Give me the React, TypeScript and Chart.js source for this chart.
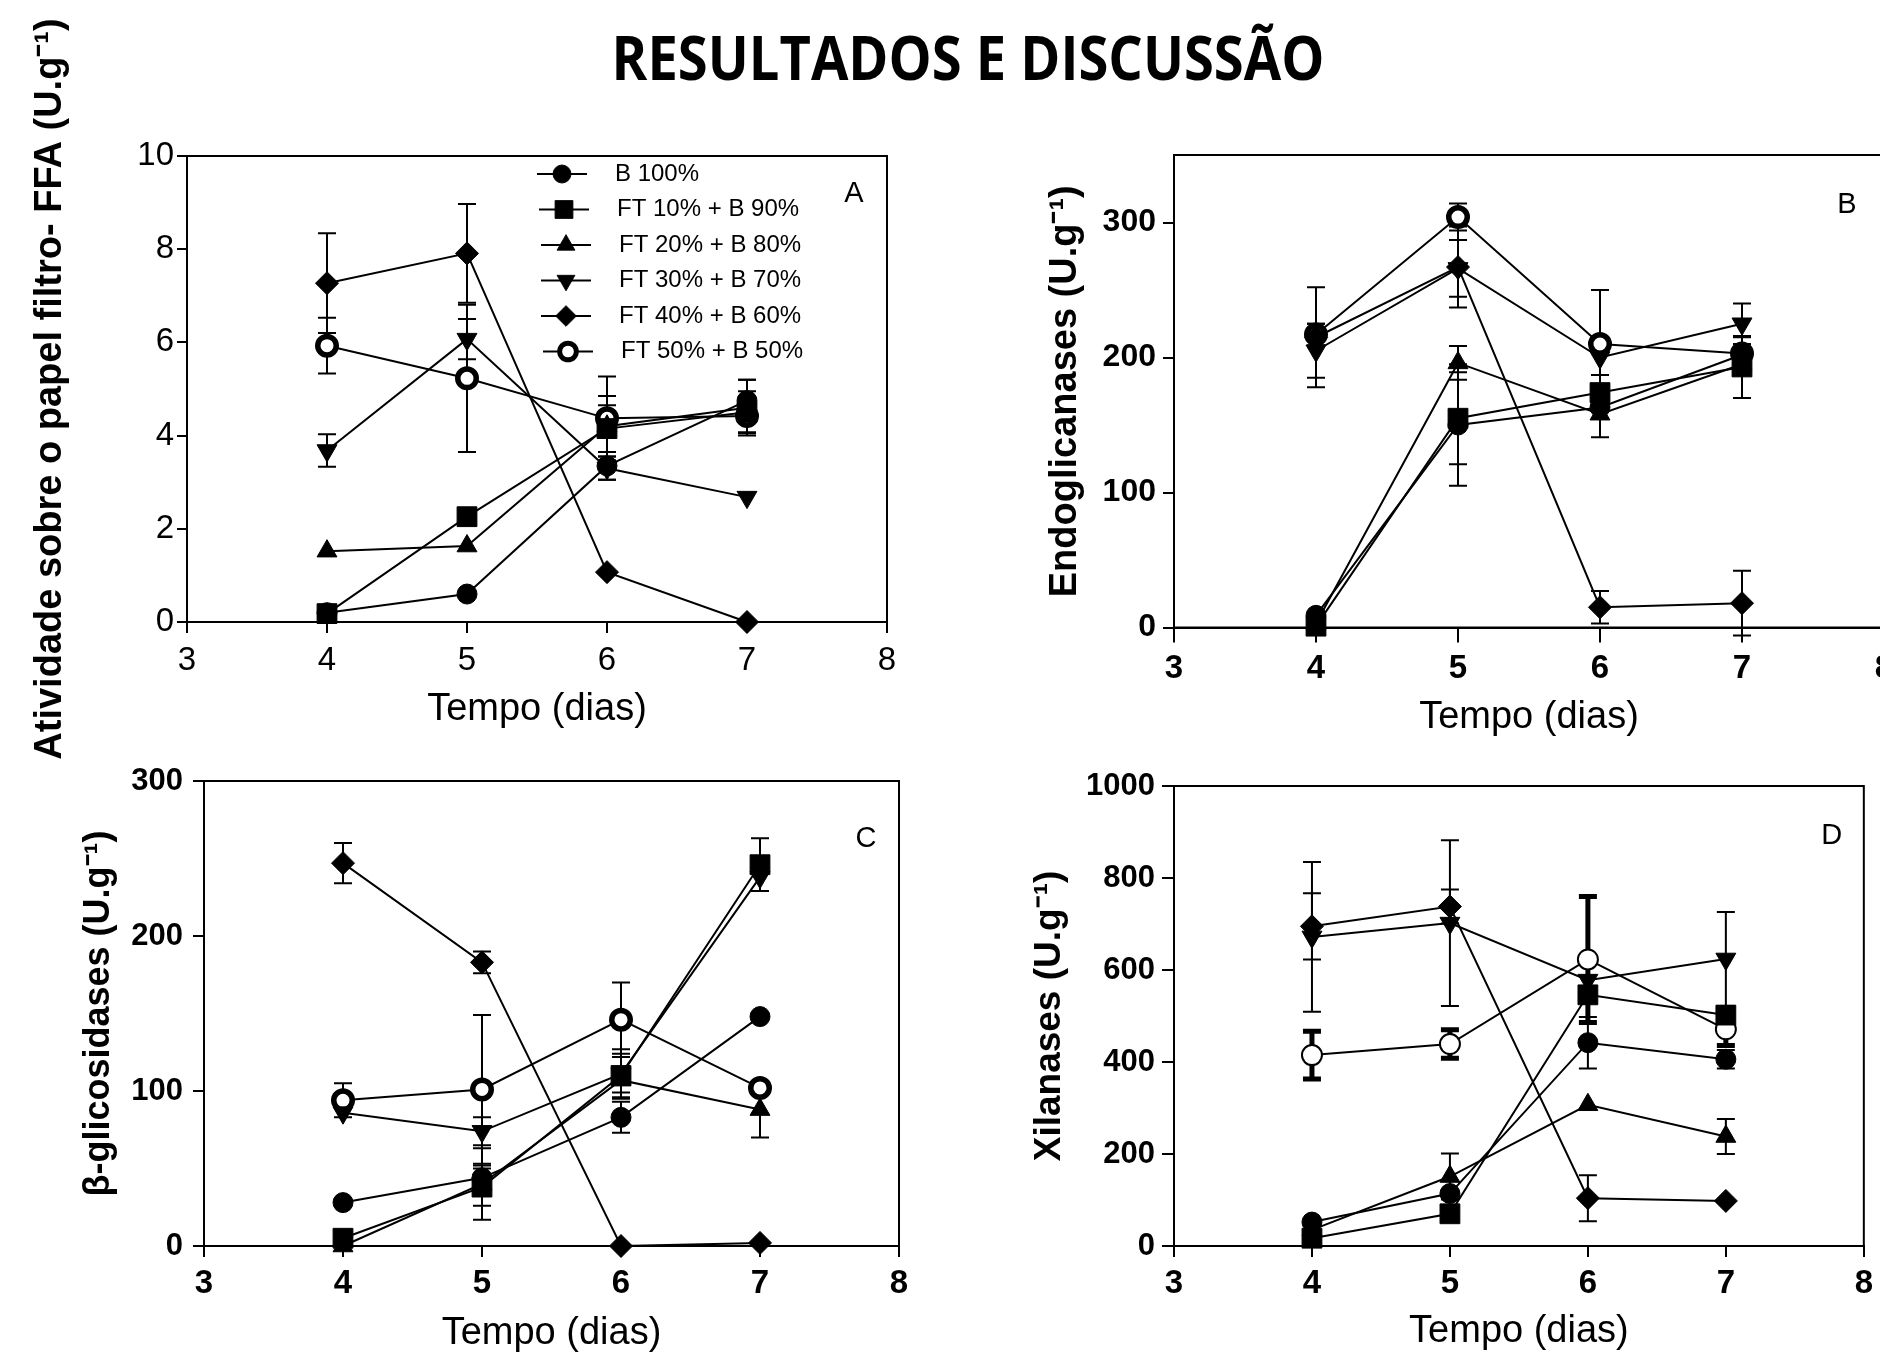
import React, { useEffect, useRef } from 'react';
import { Chart, registerables } from 'chart.js';

Chart.register(...registerables);

const FONT = "'Liberation Sans', Arial, Helvetica, sans-serif";

// ---------- data ----------
const days = [4, 5, 6, 7];
const xTickValues = [3, 4, 5, 6, 7, 8];
const seriesLabels = [
  'B 100%',
  'FT 10% + B 90%',
  'FT 20% + B 80%',
  'FT 30% + B 70%',
  'FT 40% + B 60%',
  'FT 50% + B 50%',
];

// A – Atividade sobre o papel filtro (FFA)
const ffaTicks = [0, 2, 4, 6, 8, 10];
const ffaMeans = [
  [0.2, 0.6, 3.35, 4.75],
  [0.18, 2.26, 4.15, 4.5],
  [1.52, 1.63, 4.2, 4.6],
  [3.68, 6.07, 3.3, 2.68],
  [7.27, 7.91, 1.07, 0.0],
  [5.93, 5.23, 4.37, 4.42],
];
const ffaErrors = [
  [0, 0, 0.3, 0.45],
  [0, 0, 0.5, 0.45],
  [0, 0, 0.65, 0.6],
  [0.35, 0.43, 0.25, 0],
  [1.07, 1.06, 0, 0],
  [0.6, 1.58, 0.9, 0.35],
];

// B – Endoglicanases
const endoTicks = [0, 100, 200, 300];
const endoMeans = [
  [9, 150, 163, 202],
  [1, 155, 174, 193],
  [3, 196, 158, 195],
  [205, 266, 200, 225],
  [215, 267, 15, 18],
  [217, 304, 210, 203],
];
const endoErrors = [
  [0, 45, 0, 0],
  [0, 34, 13, 23],
  [0, 12.5, 17, 0],
  [20, 21, 0, 15],
  [37, 30, 12, 24],
  [8, 10, 40, 12],
];

// C – beta-glicosidases
const betaTicks = [0, 100, 200, 300];
const betaMeans = [
  [28, 44, 83, 148],
  [5, 38, 110, 246],
  [0, 40, 107, 88],
  [86, 74, 111, 238],
  [247, 183, 0, 2],
  [94, 101, 146, 102],
];
const betaErrors = [
  [0, 8, 10, 0],
  [0, 12, 14, 17],
  [0, 23, 8, 18],
  [0, 9, 16, 0],
  [13, 7, 0, 0],
  [11, 48, 24, 0],
];

// D – Xilanases
const xilTicks = [0, 200, 400, 600, 800, 1000];
const xilMeans = [
  [52, 114, 442, 406],
  [17, 70, 546, 502],
  [35, 151, 307, 238],
  [672, 702, 578, 624],
  [695, 738, 104, 98],
  [415, 439, 623, 471],
];
const xilErrors = [
  [0, 0, 56, 20],
  [0, 0, 0, 0],
  [0, 50, 0, 38],
  [163, 180, 0, 102],
  [72, 37, 50, 0],
  [52, 31, 137, 35],
];

// ---------- styles ----------
type Marker = { pointStyle: string; radius: number; rotation: number; fill: string; borderWidth: number };
const markerStyles: Marker[] = [
  { pointStyle: 'circle', radius: 10, rotation: 0, fill: '#000', borderWidth: 1 },
  { pointStyle: 'rect', radius: 14, rotation: 0, fill: '#000', borderWidth: 1 },
  { pointStyle: 'triangle', radius: 11.5, rotation: 0, fill: '#000', borderWidth: 1 },
  { pointStyle: 'triangle', radius: 11.5, rotation: 180, fill: '#000', borderWidth: 1 },
  { pointStyle: 'rectRot', radius: 11.5, rotation: 0, fill: '#000', borderWidth: 1 },
  { pointStyle: 'circle', radius: 9.25, rotation: 0, fill: '#fff', borderWidth: 5.5 },
];
const thinOpenCircle: Marker = { pointStyle: 'circle', radius: 10, rotation: 0, fill: '#fff', borderWidth: 2 };

function drawMarker(ctx: CanvasRenderingContext2D, m: Marker, x: number, y: number, scale: number) {
  const r = m.radius * scale;
  let rad = (m.rotation * Math.PI) / 180;
  ctx.save();
  ctx.beginPath();
  if (m.pointStyle === 'circle') {
    ctx.arc(x, y, r, 0, Math.PI * 2);
  } else if (m.pointStyle === 'rect') {
    const s = Math.SQRT1_2 * r;
    ctx.rect(x - s, y - s, 2 * s, 2 * s);
  } else if (m.pointStyle === 'triangle') {
    ctx.moveTo(x + Math.sin(rad) * r, y - Math.cos(rad) * r);
    rad += (2 * Math.PI) / 3;
    ctx.lineTo(x + Math.sin(rad) * r, y - Math.cos(rad) * r);
    rad += (2 * Math.PI) / 3;
    ctx.lineTo(x + Math.sin(rad) * r, y - Math.cos(rad) * r);
    ctx.closePath();
  } else if (m.pointStyle === 'rectRot') {
    ctx.moveTo(x, y - r);
    ctx.lineTo(x + r, y);
    ctx.lineTo(x, y + r);
    ctx.lineTo(x - r, y);
    ctx.closePath();
  }
  ctx.fillStyle = m.fill;
  ctx.fill();
  ctx.lineWidth = m.borderWidth * scale;
  ctx.strokeStyle = '#000';
  ctx.stroke();
  ctx.restore();
}

const panelPlugin = {
  id: 'panelExtras',
  beforeDatasetsDraw(chart: any, _args: any, opts: any) {
    const ctx: CanvasRenderingContext2D = chart.ctx;
    const { left, top, right, bottom } = chart.chartArea;
    ctx.save();
    ctx.strokeStyle = '#000';
    ctx.lineWidth = 2;
    ctx.strokeRect(left, top, right - left, bottom - top);
    ctx.restore();

    const ys = chart.scales.y;
    chart.data.datasets.forEach((ds: any, di: number) => {
      const errs: number[] = ds.errors;
      if (!errs) return;
      const meta = chart.getDatasetMeta(di);
      const w = ds.errorWidth || 2;
      const cap = opts.capHalf || 9;
      meta.data.forEach((pt: any, i: number) => {
        const e = errs[i];
        if (!e) return;
        const v = ds.data[i].y;
        const yHi = ys.getPixelForValue(v + e);
        const yLo = ys.getPixelForValue(v - e);
        ctx.save();
        ctx.strokeStyle = '#000';
        ctx.lineWidth = w;
        ctx.beginPath();
        ctx.moveTo(pt.x, yHi);
        ctx.lineTo(pt.x, yLo);
        ctx.moveTo(pt.x - cap, yHi);
        ctx.lineTo(pt.x + cap, yHi);
        ctx.moveTo(pt.x - cap, yLo);
        ctx.lineTo(pt.x + cap, yLo);
        ctx.stroke();
        ctx.restore();
      });
    });
  },
  afterDatasetsDraw(chart: any, _args: any, opts: any) {
    const ctx: CanvasRenderingContext2D = chart.ctx;
    const { top, right } = chart.chartArea;
    if (opts.letter) {
      ctx.save();
      ctx.fillStyle = '#000';
      ctx.font = `normal ${opts.letterSize}px ${FONT}`;
      ctx.textAlign = 'center';
      ctx.textBaseline = 'middle';
      ctx.fillText(opts.letter, right + opts.letterDx, top + opts.letterDy);
      ctx.restore();
    }
    if (opts.legend) {
      const lg = opts.legend;
      chart.data.datasets.forEach((ds: any, i: number) => {
        const y = top + lg.rowY0 + i * lg.rowGap;
        const mx = lg.markerX + (lg.shift ? lg.shift[i] : 0);
        ctx.save();
        ctx.strokeStyle = '#000';
        ctx.lineWidth = 2;
        ctx.beginPath();
        ctx.moveTo(mx - lg.halfLine, y);
        ctx.lineTo(mx + lg.halfLine, y);
        ctx.stroke();
        ctx.restore();
        drawMarker(ctx, ds.marker, mx, y, lg.markerScale);
        ctx.save();
        ctx.fillStyle = '#000';
        ctx.font = `normal ${lg.fontSize}px ${FONT}`;
        ctx.textAlign = 'left';
        ctx.textBaseline = 'middle';
        ctx.fillText(ds.label, lg.textX + (lg.shift ? lg.shift[i] : 0), y);
        ctx.restore();
      });
    }
  },
};

type PanelSpec = {
  left: number; top: number; w: number; h: number;
  pad: { left: number; top: number; right: number; bottom: number };
  yWidth: number; xHeight: number;
  yMin: number; yMax: number; yTicks: number[];
  means: number[][]; errors: number[][];
  yTitle: string; yTitleSize: number; yTitlePad: number;
  xTitlePad: number;
  tickWeight: string; yTickSize: number; yTickLen: number; yTickPad: number;
  xTickSize: number; xTickLen: number; xTickPad: number;
  letter: string; letterDx: number; letterDy: number;
  legend?: any;
  openCircle?: Marker; openErrWidth?: number;
};

function buildConfig(p: PanelSpec): any {
  const datasets = p.means.map((vals, si) => {
    const m = si === 5 && p.openCircle ? p.openCircle : markerStyles[si];
    return {
      label: seriesLabels[si],
      data: days.map((d, i) => ({ x: d, y: vals[i] })),
      errors: p.errors[si],
      errorWidth: si === 5 && p.openErrWidth ? p.openErrWidth : 2,
      marker: m,
      borderColor: '#000',
      borderWidth: 2,
      backgroundColor: m.fill,
      pointBackgroundColor: m.fill,
      pointBorderColor: '#000',
      pointBorderWidth: m.borderWidth,
      pointHoverBorderWidth: m.borderWidth,
      pointStyle: m.pointStyle,
      pointRadius: m.radius,
      pointHoverRadius: m.radius,
      pointRotation: m.rotation,
      tension: 0,
      fill: false,
      clip: false,
    };
  });
  return {
    type: 'line',
    data: { datasets },
    plugins: [panelPlugin],
    options: {
      responsive: false,
      maintainAspectRatio: false,
      animation: false,
      devicePixelRatio: 1,
      events: [],
      layout: { padding: p.pad },
      plugins: {
        legend: { display: false },
        tooltip: { enabled: false },
        panelExtras: {
          letter: p.letter, letterDx: p.letterDx, letterDy: p.letterDy, letterSize: 29,
          legend: p.legend, capHalf: 9,
        },
      },
      scales: {
        x: {
          type: 'linear',
          min: 3,
          max: 8,
          afterBuildTicks: (s: any) => { s.ticks = xTickValues.map((v) => ({ value: v })); },
          afterFit: (s: any) => { s.height = p.xHeight; },
          grid: { drawOnChartArea: false, drawTicks: true, tickLength: p.xTickLen, color: '#000', lineWidth: 2 },
          border: { display: true, color: '#000', width: 2 },
          ticks: {
            color: '#000', padding: p.xTickPad, maxRotation: 0, autoSkip: false,
            font: { family: FONT, size: p.xTickSize, weight: p.tickWeight },
            callback: (v: any) => String(v),
          },
          title: {
            display: true, text: 'Tempo (dias)', color: '#000',
            font: { family: FONT, size: 38, weight: 'normal' },
            padding: { top: 0, bottom: p.xTitlePad },
          },
        },
        y: {
          type: 'linear',
          min: p.yMin,
          max: p.yMax,
          afterBuildTicks: (s: any) => { s.ticks = p.yTicks.map((v) => ({ value: v })); },
          afterFit: (s: any) => { s.width = p.yWidth; },
          grid: { drawOnChartArea: false, drawTicks: true, tickLength: p.yTickLen, color: '#000', lineWidth: 2 },
          border: { display: true, color: '#000', width: 2 },
          ticks: {
            color: '#000', padding: p.yTickPad, autoSkip: false,
            font: { family: FONT, size: p.yTickSize, weight: p.tickWeight },
            callback: (v: any) => String(v),
          },
          title: {
            display: true, text: p.yTitle, color: '#000',
            font: { family: FONT, size: p.yTitleSize, weight: 'bold' },
            padding: { top: p.yTitlePad, bottom: 0 },
          },
        },
      },
    },
  };
}

const panels: PanelSpec[] = [
  {
    left: 0, top: 0, w: 940, h: 780,
    pad: { left: 0, top: 156, right: 53, bottom: 40 },
    yWidth: 187, xHeight: 118,
    yMin: 0, yMax: 10, yTicks: ffaTicks,
    means: ffaMeans, errors: ffaErrors,
    yTitle: 'Atividade sobre o papel filtro- FFA (U.g⁻¹)', yTitleSize: 38, yTitlePad: 28,
    xTitlePad: 8,
    tickWeight: 'normal', yTickSize: 33, yTickLen: 10, yTickPad: 3,
    xTickSize: 33, xTickLen: 11, xTickPad: 8,
    letter: 'A', letterDx: -33, letterDy: 38,
    legend: {
      rowY0: 18, rowGap: 35.5, markerX: 562, halfLine: 25, textX: 615,
      shift: [0, 2, 4, 4, 4, 6], fontSize: 24, markerScale: 0.9,
    },
  },
  {
    left: 940, top: 0, w: 1000, h: 740,
    pad: { left: 0, top: 155, right: 56, bottom: 0 },
    yWidth: 234, xHeight: 112.5,
    yMin: 0, yMax: 350, yTicks: endoTicks,
    means: endoMeans, errors: endoErrors,
    yTitle: 'Endoglicanases (U.g⁻¹)', yTitleSize: 38, yTitlePad: 103,
    xTitlePad: 0,
    tickWeight: 'bold', yTickSize: 32, yTickLen: 11, yTickPad: 7,
    xTickSize: 33, xTickLen: 15, xTickPad: 7,
    letter: 'B', letterDx: -37, letterDy: 50,
  },
  {
    left: 0, top: 740, w: 940, h: 640,
    pad: { left: 0, top: 41, right: 41, bottom: 0 },
    yWidth: 204, xHeight: 134,
    yMin: 0, yMax: 300, yTicks: betaTicks,
    means: betaMeans, errors: betaErrors,
    yTitle: 'β-glicosidases (U.g⁻¹)', yTitleSize: 36, yTitlePad: 77,
    xTitlePad: 24,
    tickWeight: 'bold', yTickSize: 31, yTickLen: 11, yTickPad: 10,
    xTickSize: 33, xTickLen: 11, xTickPad: 7,
    letter: 'C', letterDx: -33, letterDy: 58,
  },
  {
    left: 940, top: 740, w: 940, h: 640,
    pad: { left: 0, top: 46, right: 12, bottom: 0 },
    yWidth: 234, xHeight: 134,
    yMin: 0, yMax: 1000, yTicks: xilTicks,
    means: xilMeans, errors: xilErrors,
    yTitle: 'Xilanases (U.g⁻¹)', yTitleSize: 37, yTitlePad: 88,
    xTitlePad: 26,
    tickWeight: 'bold', yTickSize: 31, yTickLen: 12, yTickPad: 7,
    xTickSize: 33, xTickLen: 11, xTickPad: 7,
    letter: 'D', letterDx: -32, letterDy: 50,
    openCircle: thinOpenCircle, openErrWidth: 5,
  },
];

function Panel({ spec }: { spec: PanelSpec }) {
  const ref = useRef<HTMLCanvasElement>(null);
  useEffect(() => {
    if (!ref.current) return;
    const chart = new Chart(ref.current, buildConfig(spec));
    return () => chart.destroy();
  }, [spec]);
  return (
    <canvas
      ref={ref}
      width={spec.w}
      height={spec.h}
      style={{ position: 'absolute', left: spec.left, top: spec.top, width: spec.w, height: spec.h }}
    />
  );
}

export default function App() {
  return (
    <div
      style={{
        position: 'absolute', left: 0, top: 0, width: 1880, height: 1354,
        overflow: 'hidden', background: '#fff',
      }}
    >
      {panels.map((p, i) => (
        <Panel key={i} spec={p} />
      ))}
      <div
        style={{
          position: 'absolute', left: 28, top: 26, width: 1880, textAlign: 'center',
          fontFamily: "'Open Sans', sans-serif", fontWeight: 700, fontSize: 61, lineHeight: '61px',
          color: '#000', transform: 'scaleX(0.89)', transformOrigin: '50% 50%', whiteSpace: 'nowrap',
        }}
      >
        RESULTADOS E DISCUSSÃO
      </div>
    </div>
  );
}
